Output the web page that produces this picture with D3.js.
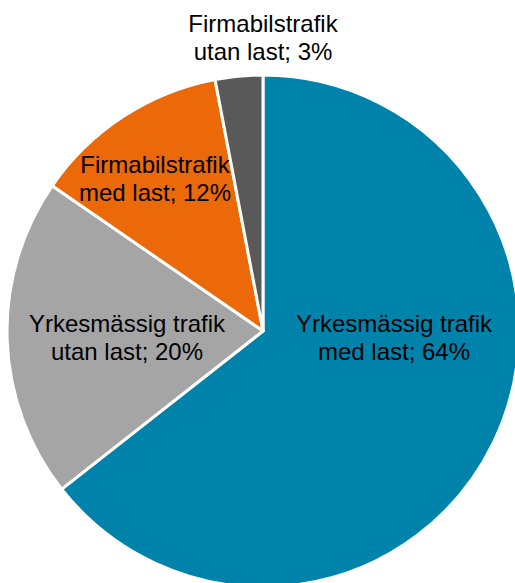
<!DOCTYPE html>
<html>
<head>
<meta charset="utf-8">
<title>Trafikarbete</title>
<script src="https://d3js.org/d3.v7.min.js"></script>
<style>
  html, body { margin: 0; padding: 0; background: #fff; }
  svg { display: block; }
</style>
</head>
<body>
<script>
const categories = [
    ["Yrkesmässig trafik", "med last"],
    ["Yrkesmässig trafik", "utan last"],
    ["Firmabilstrafik", "med last"],
    ["Firmabilstrafik", "utan last"]
];
const values = [64.4, 20.2, 12.4, 3.0];
const colors = ["#0083aa", "#a5a5a5", "#eb6909", "#595959"];

// label anchor (text centre, first baseline) relative to pie centre
const labelPos = [[131, 1], [-136, 1], [-108, -158], [0, -299]];

const width = 515, height = 583;
const cx = 263, cy = 331, radius = 256;

const svg = d3.select("body").append("svg")
    .attr("width", width)
    .attr("height", height);

const g = svg.append("g")
    .attr("transform", `translate(${cx},${cy})`);

const data = values.map((v, i) => ({ value: v, name: categories[i], color: colors[i], pos: labelPos[i] }));

const pie = d3.pie().value(d => d.value).sort(null);
const arc = d3.arc().innerRadius(0).outerRadius(radius);

g.selectAll("path")
    .data(pie(data)).join("path")
    .attr("d", arc)
    .attr("fill", d => d.data.color)
    .attr("stroke", "#fff")
    .attr("stroke-width", 3)
    .attr("stroke-linejoin", "round");

const labels = g.selectAll("text.lbl")
    .data(data).join("text")
    .attr("class", "lbl")
    .attr("text-anchor", "middle")
    .attr("font-family", "Liberation Sans, Arial, sans-serif")
    .attr("font-size", 24)
    .attr("fill", "#000")
    .attr("transform", d => `translate(${d.pos[0]},${d.pos[1]})`);

labels.append("tspan")
    .attr("x", 0).attr("y", 0)
    .text(d => d.name[0]);
labels.append("tspan")
    .attr("x", 0).attr("y", 28)
    .text(d => `${d.name[1]}; ${Math.round(d.value)}%`);
</script>
</body>
</html>
